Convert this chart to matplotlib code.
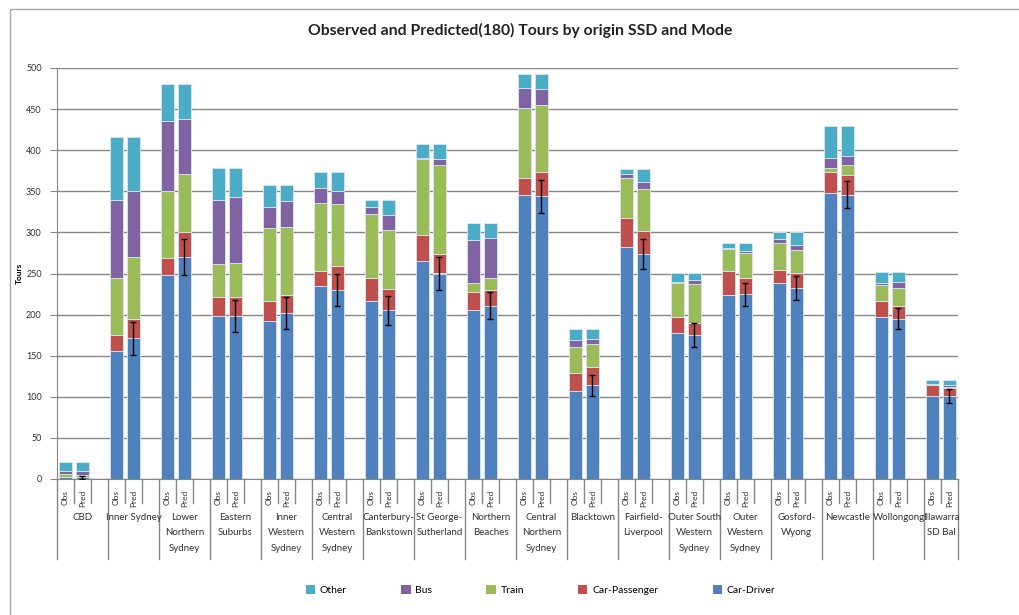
import numpy as np
import matplotlib.pyplot as plt
from matplotlib.patches import Rectangle, Patch

plt.rcParams['font.family'] = ['Lato', 'DejaVu Sans']

regions = ["CBD", "Inner Sydney", "Lower\nNorthern\nSydney", "Eastern\nSuburbs",
           "Inner\nWestern\nSydney", "Central\nWestern\nSydney", "Canterbury-\nBankstown",
           "St George-\nSutherland", "Northern\nBeaches", "Central\nNorthern\nSydney",
           "Blacktown", "Fairfield-\nLiverpool", "Outer South\nWestern\nSydney",
           "Outer\nWestern\nSydney", "Gosford-\nWyong", "Newcastle", "Wollongong",
           "Illawarra\nSD Bal"]

# observed tours by mode
obs_driver = [2, 156, 248, 198, 192, 235, 217, 265, 205, 346, 107, 282, 178, 224, 239, 348, 197, 101]
obs_pass = [1, 19, 21, 24, 24, 18, 27, 32, 22, 20, 22, 36, 19, 29, 15, 25, 20, 13]
obs_train = [3, 69, 81, 39, 89, 83, 78, 92, 12, 85, 32, 48, 41, 27, 33, 5, 19, 0.5]
obs_bus = [4, 95, 85, 78, 26, 18, 9, 1, 52, 25, 8, 5, 2, 1, 5, 13, 3, 0.5]
obs_other = [11, 77, 45, 39, 27, 20, 8, 17, 21, 17, 13, 6, 11, 6, 8, 39, 13, 6]

# predicted tours by mode (run 180)
pred_driver = [2, 171, 270, 198, 202, 230, 205, 250, 211, 344, 114, 274, 175, 225, 232, 346, 195, 101]
pred_pass = [1, 24, 30, 24, 22, 29, 26, 24, 19, 30, 22, 28, 15, 19, 19, 24, 16, 10]
pred_train = [2, 75, 71, 41, 83, 76, 72, 108, 15, 81, 28, 51, 47, 31, 27, 12, 21, 1.5]
pred_bus = [5, 80, 67, 80, 31, 15, 18, 7, 48, 20, 6, 8, 5, 2, 7, 11, 8, 1.5]
pred_other = [11, 66, 42, 35, 20, 24, 18, 18, 19, 18, 12, 16, 9, 10, 15, 37, 12, 7]

# error on predicted car-driver
pred_err = [2, 20, 22, 19.5, 19, 19, 18, 20, 16.5, 20, 13, 18, 14.5, 14, 14.5, 16.5, 13, 8.5]

modes = ["Car-Driver", "Car-Passenger", "Train", "Bus", "Other"]
colors = ["#4F81BD", "#C0504D", "#9BBB59", "#8064A2", "#4BACC6"]

obs = np.array([obs_driver, obs_pass, obs_train, obs_bus, obs_other], dtype=float)
pred = np.array([pred_driver, pred_pass, pred_train, pred_bus, pred_other], dtype=float)

n = len(regions)
nslots = 3 * n - 1
x_obs = np.arange(n) * 3 + 0.5
x_pred = np.arange(n) * 3 + 1.5

fig = plt.figure(figsize=(10.2, 6.15), dpi=100)
ax = fig.add_axes([57 / 1020, 1 - 479 / 615, 901 / 1020, 411 / 615])

gridc = "#868686"
w = 0.76
for xs, data in [(x_obs, obs), (x_pred, pred)]:
    bottom = np.zeros(n)
    for k in range(5):
        ax.bar(xs, data[k], w, bottom=bottom, color=colors[k],
               edgecolor="#dbe5f1", linewidth=0.6, zorder=3)
        bottom += data[k]

ax.errorbar(x_pred, pred[0], yerr=pred_err, fmt="none", ecolor="black",
            elinewidth=1, capsize=2.5, capthick=1, zorder=4)

ax.set_xlim(0, nslots)
ax.set_ylim(0, 500)
ax.set_yticks(np.arange(0, 501, 50))
ax.yaxis.grid(True, color=gridc, linewidth=1)
ax.set_axisbelow(True)
for s in ["top", "right"]:
    ax.spines[s].set_visible(False)
ax.spines["left"].set_color(gridc)
ax.spines["bottom"].set_color(gridc)
ax.tick_params(axis="y", colors=gridc, length=5, labelsize=6.5, labelcolor="#333333", pad=6)

# inner level: Obs / Pred
ticks = np.concatenate([x_obs, x_pred])
labels = ["Obs"] * n + ["Pred"] * n
ax.set_xticks(ticks)
ax.set_xticklabels(labels, rotation=90, fontsize=6, color="#333333", va="top")
ax.tick_params(axis="x", length=0, pad=8)

trans = ax.get_xaxis_transform()
for i in range(nslots + 1):
    if i % 3 == 0 or i == nslots:
        ax.plot([i, i], [0, -0.195], color=gridc, lw=1, transform=trans, clip_on=False)
    else:
        ax.plot([i, i], [0, -0.058], color=gridc, lw=1, transform=trans, clip_on=False)

# outer level: region names
for g, name in enumerate(regions):
    ax.text(3 * g + (1.5 if g < n - 1 else 1.0), -0.083, name, transform=trans,
            ha="center", va="top", fontsize=7, color="#333333", linespacing=1.9)

ax.set_ylabel("Tours", fontsize=6, fontweight="bold", labelpad=2)

fig.text(0.51, 0.951, "Observed and Predicted(180) Tours by origin SSD and Mode",
         ha="center", va="center", fontsize=11.3, fontweight="bold", color="#222222")

handles = [Patch(facecolor=colors[k], label=modes[k]) for k in [4, 3, 2, 1, 0]]
fig.legend(handles=handles, loc="center", bbox_to_anchor=(0.53, 1 - 590 / 615), ncol=5,
           frameon=False, fontsize=7.5, handlelength=0.9, handleheight=0.9,
           handletextpad=0.45, columnspacing=5.2)

fig.add_artist(Rectangle((10 / 1020, -0.1), 1.2, 1.1 - 9 / 615, transform=fig.transFigure,
                         fill=False, edgecolor="#a6a6a6", linewidth=1))

fig.savefig("out.png", dpi=100)
